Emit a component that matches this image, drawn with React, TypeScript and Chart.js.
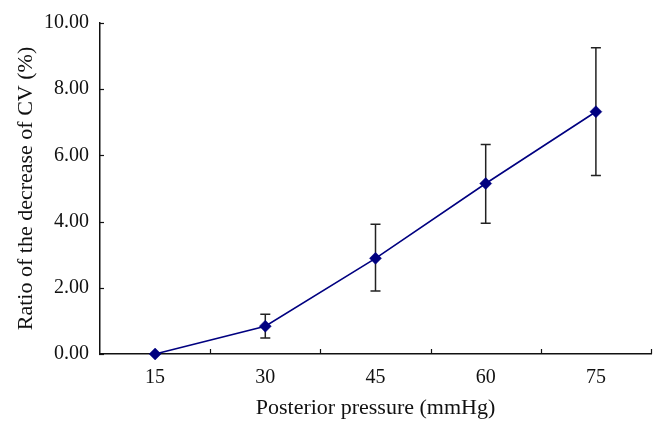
import React, { useEffect, useRef } from "react";
import { Chart, registerables } from "chart.js";

Chart.register(...registerables);

const categories = ["15", "30", "45", "60", "75"];
const meanValues = [0.0, 0.84, 2.89, 5.15, 7.32];
const errLow = [0.0, 0.48, 1.9, 3.95, 5.39];
const errHigh = [0.0, 1.2, 3.92, 6.33, 9.25];
const yTicks = [0, 2, 4, 6, 8, 10];

const FONT = "'Liberation Serif', 'Times New Roman', serif";

const errorBarPlugin = {
  id: "errorBars",
  beforeDatasetsDraw(chart: any) {
    const { ctx, scales } = chart;
    const x = scales.x;
    const y = scales.y;
    ctx.save();
    ctx.strokeStyle = "#222222";
    ctx.lineWidth = 1.5;
    for (let i = 0; i < categories.length; i++) {
      if (errHigh[i] === errLow[i]) continue;
      const px = x.getPixelForValue(i);
      const yl = y.getPixelForValue(errLow[i]);
      const yh = y.getPixelForValue(errHigh[i]);
      ctx.beginPath();
      ctx.moveTo(px, yl);
      ctx.lineTo(px, yh);
      ctx.moveTo(px - 5, yl);
      ctx.lineTo(px + 5, yl);
      ctx.moveTo(px - 5, yh);
      ctx.lineTo(px + 5, yh);
      ctx.stroke();
    }
    ctx.restore();
  },
};

const innerTicksPlugin = {
  id: "innerTicks",
  afterDatasetsDraw(chart: any) {
    const { ctx, scales } = chart;
    const x = scales.x;
    const y = scales.y;
    ctx.save();
    ctx.strokeStyle = "#111111";
    ctx.lineWidth = 1.2;
    const bottom = y.getPixelForValue(0);
    for (let i = 0; i < categories.length; i++) {
      const c = x.getPixelForValue(i);
      const n = i < categories.length - 1 ? x.getPixelForValue(i + 1) : c + (c - x.getPixelForValue(i - 1));
      const bx = Math.round((c + n) / 2) + 0.5;
      ctx.beginPath();
      ctx.moveTo(bx, bottom);
      ctx.lineTo(bx, bottom - 5);
      ctx.stroke();
    }
    const left = x.left;
    for (const t of yTicks) {
      const py = Math.round(y.getPixelForValue(t)) + 0.5;
      ctx.beginPath();
      ctx.moveTo(left - 1, py);
      ctx.lineTo(left + 4, py);
      ctx.stroke();
    }
    ctx.restore();
  },
};

export default function App() {
  const canvasRef = useRef<HTMLCanvasElement | null>(null);

  useEffect(() => {
    document.body.style.margin = "0";
    const canvas = canvasRef.current;
    if (!canvas) return;
    const chart = new Chart(canvas, {
      type: "line",
      data: {
        labels: categories,
        datasets: [
          {
            data: meanValues,
            borderColor: "#000080",
            backgroundColor: "#000080",
            borderWidth: 1.6,
            pointStyle: "rectRot",
            pointRadius: 6,
            pointBorderWidth: 0.5,
            pointBackgroundColor: "#000080",
            pointBorderColor: "#000080",
            tension: 0,
            fill: false,
            clip: false,
          },
        ],
      },
      options: {
        animation: false,
        responsive: false,
        maintainAspectRatio: false,
        layout: { padding: { top: 22, right: 14, left: 0, bottom: 0 } },
        plugins: {
          legend: { display: false },
          tooltip: { enabled: false },
        },
        scales: {
          x: {
            type: "category",
            offset: true,
            grid: { display: false, drawTicks: false, offset: true },
            border: { display: true, color: "#111111", width: 1.5 },
            ticks: {
              color: "#111111",
              font: { family: FONT, size: 20 },
              padding: 12,
              maxRotation: 0,
            },
            title: {
              display: true,
              text: "Posterior pressure (mmHg)",
              color: "#111111",
              font: { family: FONT, size: 22 },
              padding: { top: 0, bottom: 13 },
            },
            afterFit(scale: any) {
              scale.height = 80;
            },
          },
          y: {
            min: 0,
            max: 10,
            grid: { display: false, drawTicks: false },
            border: { display: true, color: "#111111", width: 1.5 },
            afterBuildTicks(scale: any) {
              scale.ticks = yTicks.map((v) => ({ value: v }));
            },
            ticks: {
              color: "#111111",
              font: { family: FONT, size: 20 },
              padding: 11,
              callback: (v: any) => Number(v).toFixed(2),
            },
            title: {
              display: true,
              text: "Ratio of the decrease of CV (%)",
              color: "#111111",
              font: { family: FONT, size: 22 },
              padding: { top: 13, bottom: 0 },
            },
            afterFit(scale: any) {
              scale.width = 100;
            },
          },
        },
      },
      plugins: [errorBarPlugin, innerTicksPlugin],
    });
    return () => chart.destroy();
  }, []);

  return (
    <div style={{ width: 665, height: 434, background: "#ffffff" }}>
      <canvas ref={canvasRef} width={665} height={434} style={{ display: "block" }} />
    </div>
  );
}
